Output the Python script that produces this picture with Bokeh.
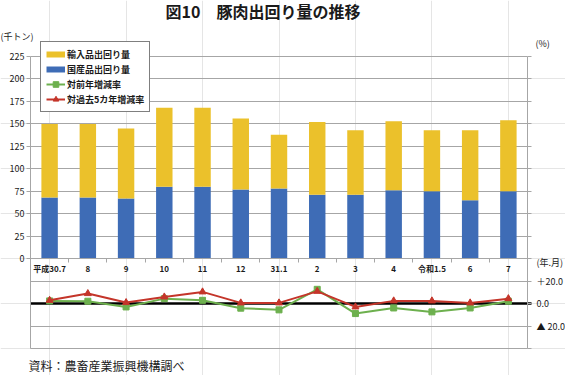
from bokeh.plotting import figure
from bokeh.models import (Range1d, LinearAxis, FixedTicker, Grid, Label,
                          Legend, LegendItem, ColumnDataSource)
from bokeh.embed import file_html
from bokeh.resources import INLINE

# ---- data ----
categories = ["平成30.7", "8", "9", "10", "11", "12", "31.1",
              "2", "3", "4", "令和1.5", "6", "7"]
domestic = [68, 68, 67, 80, 80, 77, 78, 71, 71, 76, 75, 65, 75]      # 国産品出回り量 (千トン)
imports = [82, 82, 78, 88, 88, 79, 60, 81, 72, 77, 68, 78, 79]       # 輸入品出回り量 (千トン)
yoy = [2.4, 2.1, -3.0, 4.4, 2.9, -4.1, -5.6, 12.7, -8.9, -3.9, -7.4, -3.9, 2.1]   # 対前年増減率 (%)
vs5yr = [2.9, 8.9, 0.9, 5.9, 10.4, 0.6, 0.6, 10.9, -3.0, 2.4, 2.4, 0.6, 4.4]     # 対過去5カ年増減率 (%)

left_ticks = [0, 25, 50, 75, 100, 125, 150, 175, 200, 225]
left_grid = [25, 50, 75, 100, 125, 150, 175, 200, 225]
pct_ticks = [-40, -20, 0, 20, 40, 60, 80, 100, 120, 140, 160, 180, 200, 220]
pct_grid = [-40, -20, 20]
pct_labels = {20: "＋20.0", 0: "0.0", -20: "▲ 20.0"}

# ---- styling / layout ----
FONT = "Noto Sans CJK JP"
YELLOW = "#EBC12B"
BLUE = "#3E6CB6"
GREEN = "#6DB04E"
RED = "#C4352A"
GRID = "#A6A6A6"
TXT = "#1a1a1a"

W, H = 565, 375
PX_L, PX_R = 30, 527          # pixel x of the plot area's left / right edges
PY_TOP, PY_BOT = 56, 348      # pixel y of the plot area's top / bottom edges
Y_LO, Y_HI = -100, 225        # primary axis span of the plot area
P_LO, P_HI = -40, 220         # secondary (%) axis span of the plot area

n = len(categories)
ppx = (PX_R - PX_L) / n
x_start = -0.5 - PX_L / ppx
x_end = n - 0.5 + (W - PX_R) / ppx
ppy = (PY_BOT - PY_TOP) / (Y_HI - Y_LO)
y_start = Y_LO - (H - PY_BOT) / ppy
y_end = Y_HI + PY_TOP / ppy
ppp = (PY_BOT - PY_TOP) / (P_HI - P_LO)
p_start = P_LO - (H - PY_BOT) / ppp
p_end = P_HI + PY_TOP / ppp


def dx(px):
    return x_start + px / ppx


def dy(py):
    return y_end - py / ppy


xs = list(range(n))
src = ColumnDataSource(dict(x=xs, domestic=domestic, imports=imports, yoy=yoy, vs5yr=vs5yr))

p = figure(width=W, height=H, output_backend="svg", toolbar_location=None, title=None,
           x_range=Range1d(x_start, x_end), y_range=Range1d(y_start, y_end),
           x_axis_location=None, y_axis_location=None,
           min_border=0, min_border_left=0, min_border_right=0,
           min_border_top=0, min_border_bottom=0)
p.extra_y_ranges = {"pct": Range1d(p_start, p_end)}
p.outline_line_color = None
p.background_fill_color = "white"
p.border_fill_color = "white"

XB = (-0.5, n - 0.5)

# grids
p.add_layout(Grid(dimension=1, ticker=FixedTicker(ticks=left_grid), cross_bounds=XB,
                  grid_line_color=GRID, grid_line_width=1))
p.add_layout(Grid(dimension=1, y_range_name="pct", ticker=FixedTicker(ticks=pct_grid),
                  cross_bounds=XB, grid_line_color=GRID, grid_line_width=1))
p.add_layout(Grid(dimension=1, y_range_name="pct", ticker=FixedTicker(ticks=[0]),
                  cross_bounds=(-0.5, n - 0.4), grid_line_color="black", grid_line_width=2.5))

# bars
p.vbar_stack(["domestic", "imports"], x="x", width=0.43, source=src,
             fill_color=[BLUE, YELLOW], line_color=None)

# rate lines
gl = p.line("x", "yoy", source=src, y_range_name="pct", line_color=GREEN, line_width=2)
gm = p.scatter("x", "yoy", source=src, y_range_name="pct", marker="square", size=6,
               fill_color=GREEN, line_color=GREEN)
rl = p.line("x", "vs5yr", source=src, y_range_name="pct", line_color=RED, line_width=2)
rm = p.scatter("x", "vs5yr", source=src, y_range_name="pct", marker="triangle", size=7,
               fill_color=RED, line_color=RED)

# legend proxies for the bar series (nothing drawn in the plot)
nan = float("nan")
py_ = p.line(x=[nan], y=[nan], line_color=YELLOW, line_width=6)
pb_ = p.line(x=[nan], y=[nan], line_color=BLUE, line_width=6)

legend = Legend(items=[
    LegendItem(label="輸入品出回り量", renderers=[py_]),
    LegendItem(label="国産品出回り量", renderers=[pb_]),
    LegendItem(label="対前年増減率", renderers=[gl, gm]),
    LegendItem(label="対過去5カ年増減率", renderers=[rl, rm]),
], location=(40, H - 112), padding=5, spacing=1, margin=0,
    label_height=14, glyph_height=14, glyph_width=19, label_standoff=2,
    label_text_font=FONT, label_text_font_size="9px", label_text_font_style="bold",
    label_text_color=TXT, border_line_color="black", border_line_width=1,
    background_fill_color="white", background_fill_alpha=1)
p.add_layout(legend)

# axes
yl = LinearAxis(ticker=FixedTicker(ticks=left_ticks), fixed_location=-0.5, bounds=(Y_LO, Y_HI),
                axis_line_color=GRID, major_tick_line_color=GRID,
                major_tick_out=4, major_tick_in=0, minor_tick_out=0, minor_tick_in=0,
                major_label_standoff=2, major_label_text_font=FONT,
                major_label_text_font_size="9px", major_label_text_color=TXT)
p.add_layout(yl, "left")

yr = LinearAxis(y_range_name="pct", ticker=FixedTicker(ticks=pct_ticks), fixed_location=n - 0.5,
                bounds=(P_LO, P_HI),
                major_label_overrides={t: pct_labels.get(t, "") for t in pct_ticks},
                axis_line_color=GRID, major_tick_line_color=GRID,
                major_tick_out=4, major_tick_in=0, minor_tick_out=0, minor_tick_in=0,
                major_label_standoff=5, major_label_text_font=FONT,
                major_label_text_font_size="9px", major_label_text_color=TXT)
p.add_layout(yr, "right")

xt = LinearAxis(ticker=FixedTicker(ticks=[i - 0.5 for i in range(n + 1)]), fixed_location=0,
                bounds=XB, axis_line_color=GRID, major_tick_line_color=GRID,
                major_tick_out=4, major_tick_in=0, minor_tick_out=0, minor_tick_in=0,
                major_label_text_color=None)
p.add_layout(xt, "below")

xl = LinearAxis(ticker=FixedTicker(ticks=xs), fixed_location=0,
                axis_line_color=None, major_tick_line_color=None,
                major_tick_out=0, major_tick_in=0, minor_tick_out=0, minor_tick_in=0,
                major_label_overrides={i: c for i, c in enumerate(categories)},
                major_label_standoff=4, major_label_text_font=FONT,
                major_label_text_font_size="8px", major_label_text_font_style="bold",
                major_label_text_color=TXT)
p.add_layout(xl, "below")

# texts
p.add_layout(Label(x=dx(165), y=dy(10), text="図10　豚肉出回り量の推移",
                   text_font=FONT, text_font_size="16px", text_font_style="bold",
                   text_baseline="middle", text_align="left", text_color=TXT))
p.add_layout(Label(x=dx(0), y=dy(36), text="(千トン)",
                   text_font=FONT, text_font_size="9px", text_baseline="middle",
                   text_align="left", text_color=TXT))
p.add_layout(Label(x=dx(535), y=dy(43), text="(%)",
                   text_font=FONT, text_font_size="9px", text_baseline="middle",
                   text_align="left", text_color=TXT))
p.add_layout(Label(x=dx(536), y=dy(262), text="(年.月)",
                   text_font=FONT, text_font_size="9px", text_baseline="middle",
                   text_align="left", text_color=TXT))
p.add_layout(Label(x=dx(28), y=dy(365), text="資料：農畜産業振興機構調べ",
                   text_font=FONT, text_font_size="12px", text_baseline="middle",
                   text_align="left", text_color=TXT))

open("out.html", "w").write(file_html(p, INLINE))
